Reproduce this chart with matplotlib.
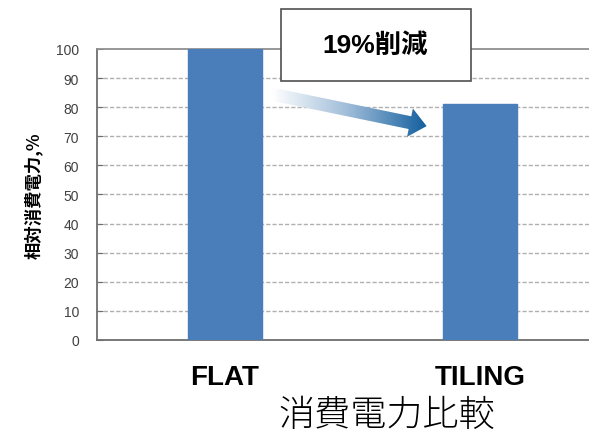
import numpy as np
import matplotlib.pyplot as plt
from matplotlib.patches import FancyArrow, Rectangle
from matplotlib.colors import LinearSegmentedColormap

plt.rcParams['font.family'] = ['Liberation Sans', 'Noto Sans CJK JP', 'DejaVu Sans']

# data
categories = ['FLAT', 'TILING']
power = [100, 81]
yticks = np.arange(0, 101, 10)
title = '消費電力比較'
ylabel = '相対消費電力,%'
note = '19%削減'

fig = plt.figure(figsize=(5.89, 4.35), dpi=100)
ax = fig.add_axes([0.1647, 0.2161, 0.8676, 0.669])

x = np.arange(len(categories))
ax.bar(x, power, width=0.29, color='#4a7ebb', edgecolor='#4a7ebb', zorder=3)

ax.set_xlim(-0.5, 1.5)
ax.set_ylim(0, 100)
ax.set_yticks(yticks)
ax.set_yticklabels([str(v) for v in yticks], fontsize=10, color='#404040')
ax.set_xticks(x)
ax.set_xticklabels(categories, fontsize=20, fontweight='bold')
ax.tick_params(axis='x', length=0, pad=17)
ax.tick_params(axis='y', direction='in', length=4, color='#707070', pad=13)

# dashed grid, solid top line
for v in yticks[1:-1]:
    ax.axhline(v, color='#b0b0b0', lw=1, ls=(0, (3, 1.5)), zorder=1)
for s in ['left', 'bottom', 'top']:
    ax.spines[s].set_color('#6e6e6e')
    ax.spines[s].set_linewidth(1.3)
ax.spines['top'].set_color('#909090')
ax.spines['right'].set_visible(False)

ax.set_ylabel(ylabel, fontsize=12.5, fontweight='bold',
              family=['Noto Sans CJK JP', 'DejaVu Sans'])
ax.yaxis.set_label_coords(-0.106, 0.5)

fig.text(0.656, 0.0, title, fontsize=26, ha='center', va='bottom',
         family=['Noto Sans CJK JP'], fontweight='light')

# callout box
box = Rectangle((0.219, 89), 0.746, 24.7, facecolor='white', edgecolor='#505050',
                lw=1.2, clip_on=False, zorder=5)
ax.add_patch(box)
ax.text(0.588, 101.5, note, fontsize=19, fontweight='bold', ha='center',
        va='center', zorder=6, family=['Liberation Sans', 'Noto Sans CJK JP'])

# gradient arrow, drawn in inches so it keeps its shape
to_in = ax.transData + fig.dpi_scale_trans.inverted()
tail = to_in.transform((0.184, 84.5))
tip = to_in.transform((0.79, 73.5))
arrow = FancyArrow(tail[0], tail[1], tip[0] - tail[0], tip[1] - tail[1],
                   width=0.13, head_width=0.29, head_length=0.17,
                   length_includes_head=True, transform=fig.dpi_scale_trans)
grad = np.linspace(0, 1, 256).reshape(1, -1)
cmap = LinearSegmentedColormap.from_list('g', ['#ffffff', '#9dbbd8', '#135f9e'])
img = ax.imshow(grad, extent=[0.184, 0.79, 65, 95], aspect='auto', cmap=cmap,
                zorder=4)
img.set_clip_path(arrow)
ax.set_xlim(-0.5, 1.5)
ax.set_ylim(0, 100)

fig.savefig('out.png', dpi=100)
